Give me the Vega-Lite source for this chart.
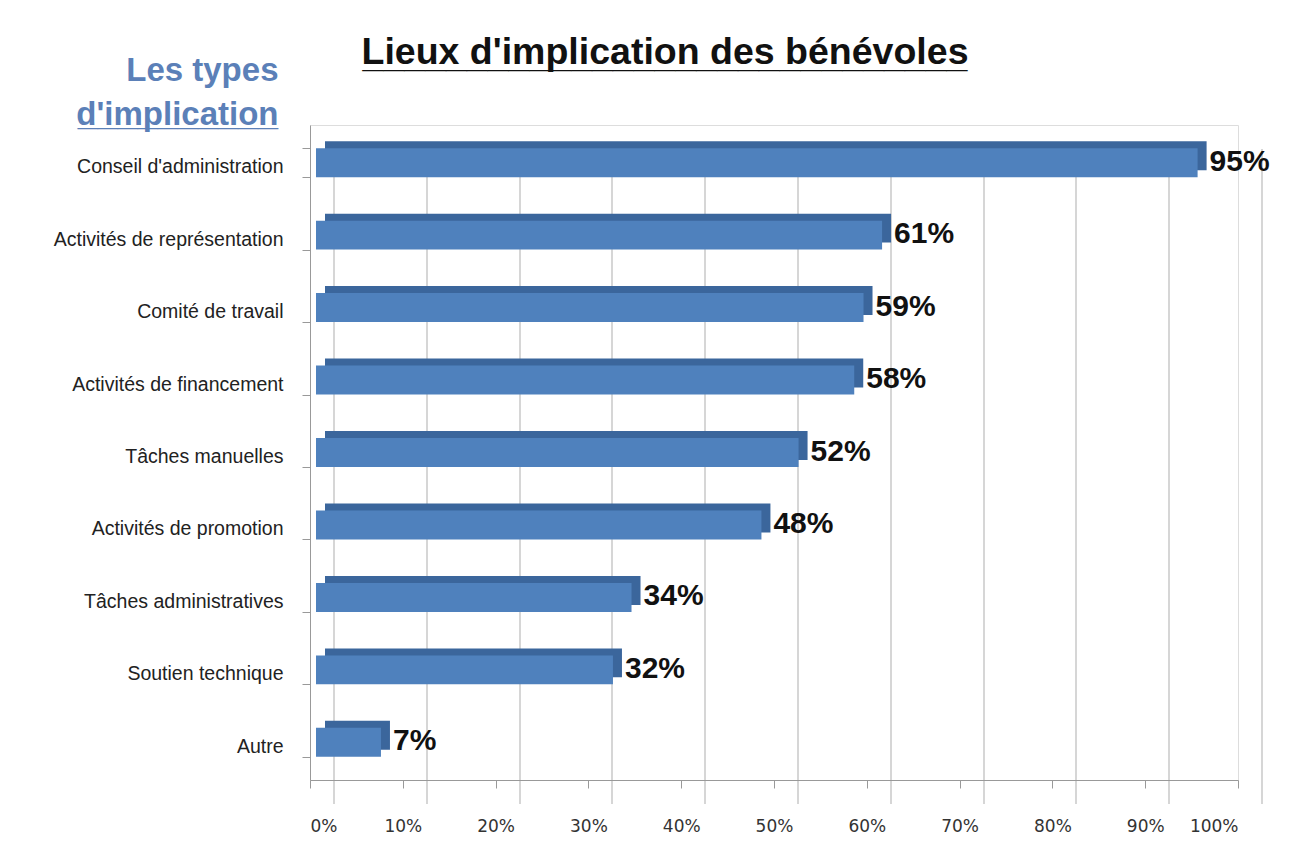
{
  "$schema": "https://vega.github.io/schema/vega-lite/v6.json",
  "width": 928,
  "height": 655,
  "autosize": {"type": "none"},
  "padding": {"left": 310, "top": 125, "right": 68, "bottom": 81},
  "background": "white",
  "title": {
    "text": "Lieux d'implication des bénévoles",
    "subtitle": "_____________________________",
    "frame": "group",
    "anchor": "middle",
    "dx": -109,
    "offset": -20,
    "font": "Liberation Sans",
    "fontSize": 37.5,
    "fontWeight": "bold",
    "color": "#111111",
    "subtitleFont": "Liberation Sans",
    "subtitleFontSize": 37.5,
    "subtitleFontWeight": "bold",
    "subtitleColor": "#111111",
    "subtitlePadding": -35
  },
  "data": {
    "values": [
      {"type": "Conseil d'administration", "pct": 0.95},
      {"type": "Activités  de représentation", "pct": 0.61},
      {"type": "Comité de travail", "pct": 0.59},
      {"type": "Activités  de financement", "pct": 0.58},
      {"type": "Tâches manuelles", "pct": 0.52},
      {"type": "Activités  de promotion", "pct": 0.48},
      {"type": "Tâches administratives", "pct": 0.34},
      {"type": "Soutien technique", "pct": 0.32},
      {"type": "Autre", "pct": 0.07}
    ]
  },
  "resolve": {"axis": {"x": "independent"}},
  "encoding": {
    "y": {
      "field": "type",
      "type": "nominal",
      "sort": null,
      "scale": {"paddingInner": 0.6, "paddingOuter": 0.32},
      "axis": {
        "title": ["Les types", "d'implication"],
        "titleAngle": 0,
        "titleAlign": "right",
        "titleBaseline": "alphabetic",
        "titleX": -32,
        "titleY": -45,
        "titleLineHeight": 44,
        "titleFont": "Liberation Sans",
        "titleFontSize": 33,
        "titleFontWeight": "bold",
        "titleColor": "#5B80B8",
        "labelFont": "Liberation Sans",
        "labelFontSize": 19.5,
        "labelLimit": 0,
        "labelColor": "#222222",
        "labelPadding": 19,
        "labelOffset": 4,
        "tickBand": "extent",
        "tickSize": 8,
        "tickColor": "#999999",
        "domainColor": "#999999",
        "grid": false
      }
    }
  },
  "layer": [
    {
      "mark": {"type": "bar", "color": "#3B669C", "xOffset": 15, "yOffset": -7},
      "encoding": {
        "x": {
          "field": "pct",
          "type": "quantitative",
          "scale": {"domain": [0, 1]},
          "axis": {
            "format": ".0%",
            "values": [0, 0.1, 0.2, 0.3, 0.4, 0.5, 0.6, 0.7, 0.8, 0.9, 1],
            "title": null,
            "grid": false,
            "labelFont": "DejaVu Sans",
            "labelFontSize": 17,
            "labelColor": "#333333",
            "labelPadding": 30,
            "tickSize": 8,
            "tickColor": "#999999",
            "domainColor": "#999999"
          }
        }
      }
    },
    {
      "mark": {"type": "bar", "color": "#4F81BD", "xOffset": 6},
      "encoding": {"x": {"field": "pct", "type": "quantitative", "axis": null}}
    },
    {
      "mark": {"type": "text", "align": "left", "baseline": "middle", "dx": 18, "dy": -1, "font": "Liberation Sans", "fontSize": 30, "fontWeight": "bold", "color": "#111111"},
      "encoding": {
        "x": {
          "field": "pct",
          "type": "quantitative",
          "axis": {
            "orient": "bottom",
            "values": [0, 0.1, 0.2, 0.3, 0.4, 0.5, 0.6, 0.7, 0.8, 0.9, 1],
            "title": "__________",
            "titleAngle": 0,
            "titleAlign": "right",
            "titleBaseline": "alphabetic",
            "titleX": -56,
            "titleY": -679,
            "titleFont": "Liberation Sans",
            "titleFontSize": 36,
            "titleFontWeight": "bold",
            "titleColor": "#5B80B8",
            "labels": false,
            "ticks": false,
            "domain": false,
            "grid": true,
            "gridColor": "#c8c8c8",
            "gridWidth": 1.5,
            "translate": 24,
            "zindex": 0
          }
        },
        "text": {"field": "pct", "type": "quantitative", "format": ".0%"}
      }
    }
  ]
}
